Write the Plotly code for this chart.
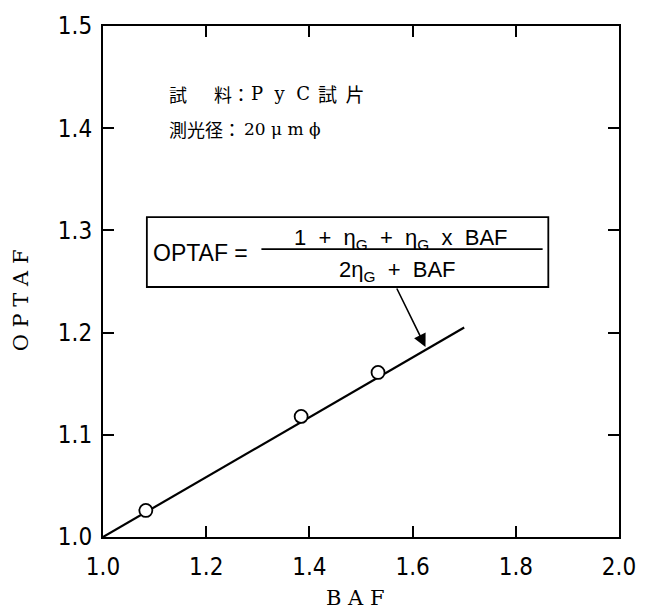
import plotly.graph_objects as go

# Measured points (BAF vs OPTAF)
baf_meas = [1.083, 1.384, 1.533]
optaf_meas = [1.026, 1.118, 1.161]

# Fitted curve drawn through the measurements
baf_fit = [1.0, 1.70]
optaf_fit = [1.0, 1.205]

x_ticks = [1.0, 1.2, 1.4, 1.6, 1.8, 2.0]
x_tick_text = ["1.0", "1.2", "1.4", "1.6", "1.8", "2.0"]
y_ticks = [1.0, 1.1, 1.2, 1.3, 1.4, 1.5]
y_tick_text = ["1.0", "1.1", "1.2", "1.3", "1.4", "1.5"]

NB = "\u00a0"

tick_font = dict(family="Liberation Sans Narrow, DejaVu Sans Condensed, Arial", size=24, color="black")
title_font = dict(family="DejaVu Serif, Liberation Serif, serif", size=21, color="black")
eq_font = dict(family="Liberation Sans, Arial, sans-serif", size=22, color="black")
jp_font = dict(family="Noto Sans CJK JP, Noto Sans", size=18, color="black")
latin_note_font = dict(family="DejaVu Serif, Liberation Serif, serif", size=18, color="black")

fig = go.Figure()

fig.add_trace(go.Scatter(
    x=baf_fit, y=optaf_fit, mode="lines",
    line=dict(color="black", width=2.2), showlegend=False, hoverinfo="skip",
))
fig.add_trace(go.Scatter(
    x=baf_meas, y=optaf_meas, mode="markers",
    marker=dict(symbol="circle", size=13, color="white", line=dict(color="black", width=1.8)),
    showlegend=False,
))

# Equation box
fig.add_shape(type="rect", xref="x", yref="y", x0=1.085, x1=1.863, y0=1.2446, y1=1.313,
              line=dict(color="black", width=1.8), fillcolor="white", layer="above")
# Fraction bar
fig.add_shape(type="line", xref="x", yref="y", x0=1.307, x1=1.852, y0=1.2817, y1=1.2817,
              line=dict(color="black", width=1.8))

fig.add_annotation(x=1.093, y=1.278, xref="x", yref="y", xanchor="left", yanchor="middle",
                   text="OPTAF =", showarrow=False, font=dict(eq_font, size=23))
num_text = (f"1{NB}{NB}+{NB}{NB}η<sub>G</sub>{NB}{NB}+{NB}{NB}η<sub>G</sub>"
            f"{NB}{NB}x{NB}{NB}BAF")
den_text = f"2η<sub>G</sub>{NB}{NB}+{NB}{NB}BAF"
fig.add_annotation(x=1.578, y=1.2915, xref="x", yref="y", xanchor="center", yanchor="middle",
                   text=num_text, showarrow=False, font=eq_font)
fig.add_annotation(x=1.570, y=1.2603, xref="x", yref="y", xanchor="center", yanchor="middle",
                   text=den_text, showarrow=False, font=eq_font)

# Leader arrow from the equation box to the curve
fig.add_annotation(x=1.625, y=1.186, ax=1.568, ay=1.2446, xref="x", yref="y", axref="x", ayref="y",
                   text="", showarrow=True, arrowhead=2, arrowsize=1.6, arrowwidth=1.6, arrowcolor="black",
                   standoff=0)

# Sample notes
y_note1, y_note2 = 1.4337, 1.3996
notes = [
    (1.1244, y_note1, "試", jp_font),
    (1.2112, y_note1, "料：", jp_font),
    (1.2825, y_note1, f"P{NB}{NB}y{NB}{NB}C", latin_note_font),
    (1.4137, y_note1, f"試{NB}{NB}片", dict(jp_font, size=19)),
    (1.1244, y_note2, "測光径：", jp_font),
    (1.2690, y_note2, f"20{NB}μ{NB}m{NB}ϕ", dict(latin_note_font, size=17)),
]
for nx, ny, ntext, nfont in notes:
    fig.add_annotation(x=nx, y=ny, xref="x", yref="y", xanchor="left", yanchor="middle",
                       text=ntext, showarrow=False, font=nfont)

# Axis titles
fig.add_annotation(x=0.489, y=-0.12, xref="paper", yref="paper", xanchor="center", yanchor="middle",
                   text=f"B{NB}A{NB}F", showarrow=False, font=title_font)
fig.add_annotation(x=-0.160, y=0.464, xref="paper", yref="paper", xanchor="center", yanchor="middle",
                   text=f"O{NB}P{NB}T{NB}A{NB}F", textangle=-90, showarrow=False, font=title_font)

axis_common = dict(
    showline=True, linecolor="black", linewidth=2, mirror="ticks",
    ticks="inside", ticklen=11, tickwidth=1.8, tickcolor="black",
    showgrid=False, zeroline=False, tickfont=tick_font,
)

fig.update_xaxes(range=[1.0, 2.0], tickvals=x_ticks, ticktext=x_tick_text,
                 ticklabelstandoff=7, **axis_common)
fig.update_yaxes(range=[1.0, 1.5], tickvals=y_ticks, ticktext=y_tick_text,
                 ticklabelstandoff=4, **axis_common)

fig.update_layout(
    width=648, height=610,
    margin=dict(l=103, r=26, t=24, b=73),
    paper_bgcolor="white", plot_bgcolor="white",
)

fig.write_html("out.html")
